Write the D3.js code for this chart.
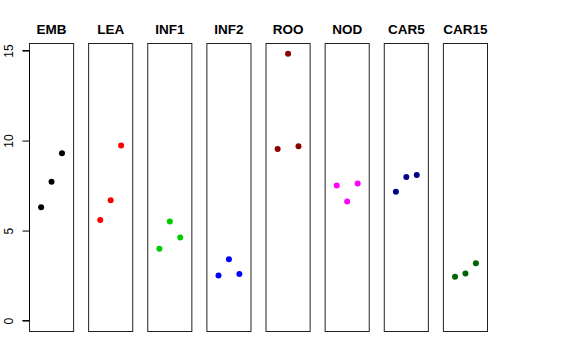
<!DOCTYPE html>
<html><head><meta charset="utf-8">
<script src="https://cdn.jsdelivr.net/npm/d3@7"></script>
<style>body{margin:0;background:#fff}svg{display:block}</style>
</head><body>
<svg id="c" width="576" height="360"></svg>
<script>
const categories = ["EMB","LEA","INF1","INF2","ROO","NOD","CAR5","CAR15"];
const colors = ["#000000","#FF0000","#00CD00","#0000FF","#8B0000","#FF00FF","#00008B","#006400"];
const values = [
  [6.29, 7.71, 9.29],
  [5.58, 6.69, 9.73],
  [3.99, 5.51, 4.62],
  [2.51, 3.40, 2.58],
  [9.53, 14.82, 9.68],
  [7.51, 6.62, 7.62],
  [7.16, 7.97, 8.08],
  [2.43, 2.62, 3.19]
];
const yTicks = [0, 5, 10, 15];

const svg = d3.select("#c");
const panel = d3.scaleBand().domain(categories).range([29, 488]).paddingInner(14/59).paddingOuter(0);
const y = d3.scaleLinear().domain([-0.58, 15.42]).range([331, 43]);
const xin = d3.scaleLinear().domain([-0.16, 4.16]).range([0, panel.bandwidth()]);

categories.forEach((cat, i) => {
  const g = svg.append("g").attr("transform", `translate(${panel(cat)},0)`);
  g.append("rect")
    .attr("x", 0.5).attr("y", y.range()[1] + 0.5)
    .attr("width", panel.bandwidth() - 1).attr("height", y.range()[0] - y.range()[1])
    .attr("fill", "none").attr("stroke", "#222").attr("stroke-width", 1);
  g.selectAll("circle").data(values[i]).join("circle")
    .attr("cx", (d, j) => xin(j + 1))
    .attr("cy", d => y(d))
    .attr("r", 3)
    .attr("fill", colors[i]);
  g.append("text")
    .attr("x", panel.bandwidth() / 2).attr("y", 34)
    .attr("text-anchor", "middle")
    .attr("font-family", "Liberation Sans, Arial, sans-serif")
    .attr("font-weight", "bold").attr("font-size", 13.5)
    .text(cat);
});

// y axis
const axis = d3.axisLeft(y).tickValues(yTicks).tickSize(7).tickPadding(5);
const ag = svg.append("g").attr("transform", `translate(29.5,0)`).call(axis);
ag.select(".domain").attr("d", `M-7,${y(0)}H0V${y(15)}H-7`).attr("stroke", "#000");
ag.selectAll(".tick line").attr("stroke", "#000");
ag.selectAll(".tick text")
  .attr("font-family", "Liberation Sans, Arial, sans-serif")
  .attr("font-size", 12).attr("fill", "#000")
  .attr("text-anchor", "middle")
  .attr("x", 0).attr("y", 0).attr("dy", "0.35em")
  .attr("transform", "translate(-21,0) rotate(-90)");
</script>
</body></html>
